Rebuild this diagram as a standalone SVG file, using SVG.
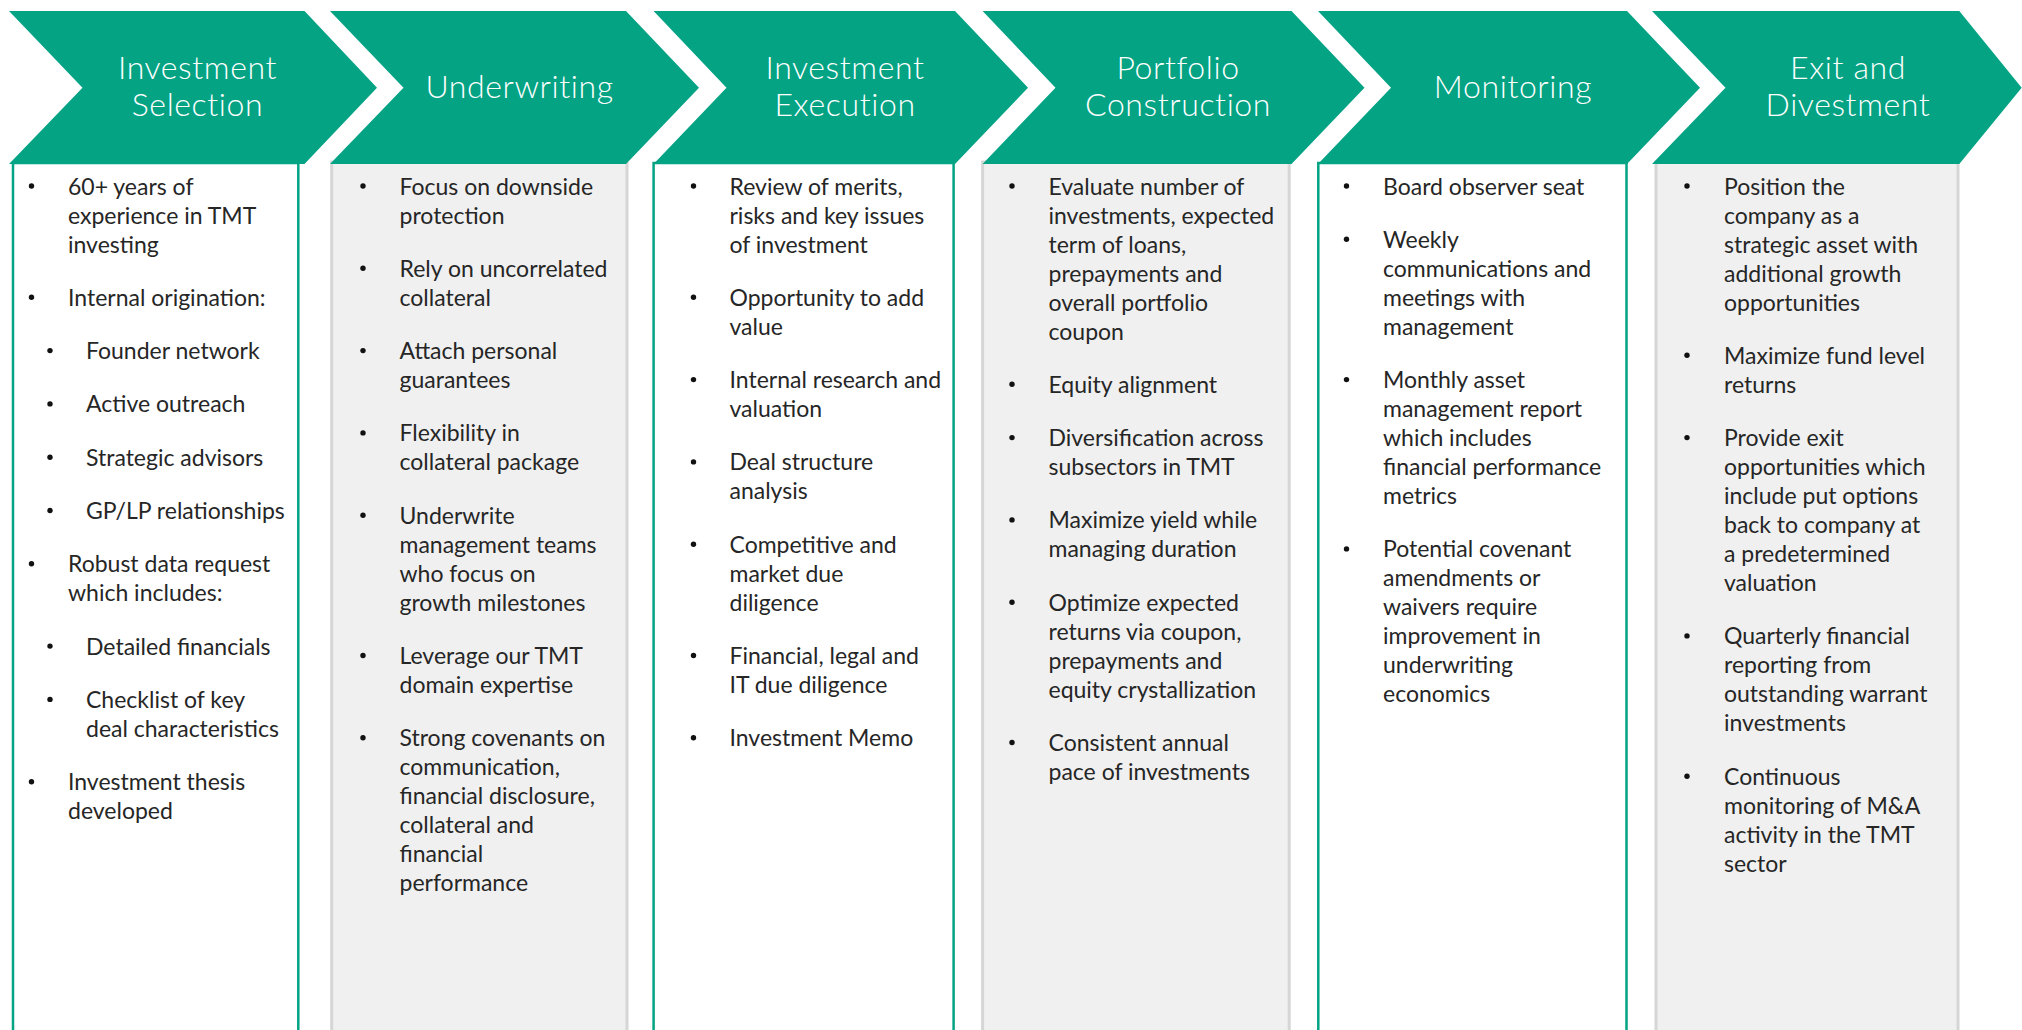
<svg xmlns="http://www.w3.org/2000/svg" width="2022" height="1030" viewBox="0 0 2022 1030">
  <style>
    .chev { fill: #03A384; }
    .box-w { fill: #FFFFFF; stroke: #03A384; stroke-width: 2.5; }
    .box-g { fill: #F0F0F0; stroke: #D6D6D6; stroke-width: 3; }
    .title { font-family: Lato, "Open Sans", sans-serif; font-weight: 300; font-size: 32px; letter-spacing: 0.6px; fill: #FFFFFF; text-anchor: middle; }
    .item { font-family: Lato, "Open Sans", sans-serif; font-weight: 400; font-size: 23px; fill: #262626; }
    .dot { fill: #111111; }
  </style>
  <rect width="2022" height="1030" fill="#FFFFFF"/>

  <!-- Column 1 -->
  <g id="investment-selection">
    <rect class="box-w" x="13" y="163" width="285.3" height="880"/>
    <polygon class="chev" points="9,11 304.5,11 377,87.7 304.5,164 9,164 82.5,87.7"/>
    <text class="title"><tspan x="197.5" y="79">Investment</tspan><tspan x="197.5" y="115.7">Selection</tspan></text>
    <g class="dot">
      <circle cx="31.5" cy="186" r="2.7"/>
      <circle cx="31.5" cy="297.3" r="2.7"/>
      <circle cx="50" cy="350.6" r="2.7"/>
      <circle cx="50" cy="403.9" r="2.7"/>
      <circle cx="50" cy="457.2" r="2.7"/>
      <circle cx="50" cy="510.5" r="2.7"/>
      <circle cx="31.5" cy="563.8" r="2.7"/>
      <circle cx="50" cy="646.1" r="2.7"/>
      <circle cx="50" cy="699.4" r="2.7"/>
      <circle cx="31.5" cy="781.7" r="2.7"/>
    </g>
    <text class="item"><tspan x="68" y="194.5">60+ years of</tspan><tspan x="68" dy="29">experience in TMT</tspan><tspan x="68" dy="29">investing</tspan></text>
    <text class="item" x="68" y="305.8">Internal origination:</text>
    <text class="item" x="86" y="359.1">Founder network</text>
    <text class="item" x="86" y="412.4">Active outreach</text>
    <text class="item" x="86" y="465.7">Strategic advisors</text>
    <text class="item" x="86" y="519">GP/LP relationships</text>
    <text class="item"><tspan x="68" y="572.3">Robust data request</tspan><tspan x="68" dy="29">which includes:</tspan></text>
    <text class="item" x="86" y="654.6">Detailed financials</text>
    <text class="item"><tspan x="86" y="707.9">Checklist of key</tspan><tspan x="86" dy="29">deal characteristics</tspan></text>
    <text class="item"><tspan x="68" y="790.2">Investment thesis</tspan><tspan x="68" dy="29">developed</tspan></text>
  </g>

  <!-- Column 2 -->
  <g id="underwriting">
    <rect class="box-g" x="331.7" y="162" width="295.3" height="880"/>
    <polygon class="chev" points="330,11 626,11 699,87.7 626,164 330,164 403.5,87.7"/>
    <text class="title" x="519.5" y="97.7">Underwriting</text>
    <g class="dot">
      <circle cx="363" cy="186" r="2.7"/>
      <circle cx="363" cy="268.3" r="2.7"/>
      <circle cx="363" cy="350.6" r="2.7"/>
      <circle cx="363" cy="432.9" r="2.7"/>
      <circle cx="363" cy="515.2" r="2.7"/>
      <circle cx="363" cy="655.5" r="2.7"/>
      <circle cx="363" cy="737.8" r="2.7"/>
    </g>
    <text class="item"><tspan x="399.5" y="194.5">Focus on downside</tspan><tspan x="399.5" dy="29">protection</tspan></text>
    <text class="item"><tspan x="399.5" y="276.8">Rely on uncorrelated</tspan><tspan x="399.5" dy="29">collateral</tspan></text>
    <text class="item"><tspan x="399.5" y="359.1">Attach personal</tspan><tspan x="399.5" dy="29">guarantees</tspan></text>
    <text class="item"><tspan x="399.5" y="441.4">Flexibility in</tspan><tspan x="399.5" dy="29">collateral package</tspan></text>
    <text class="item"><tspan x="399.5" y="523.7">Underwrite</tspan><tspan x="399.5" dy="29">management teams</tspan><tspan x="399.5" dy="29">who focus on</tspan><tspan x="399.5" dy="29">growth milestones</tspan></text>
    <text class="item"><tspan x="399.5" y="664">Leverage our TMT</tspan><tspan x="399.5" dy="29">domain expertise</tspan></text>
    <text class="item"><tspan x="399.5" y="746.3">Strong covenants on</tspan><tspan x="399.5" dy="29">communication,</tspan><tspan x="399.5" dy="29">financial disclosure,</tspan><tspan x="399.5" dy="29">collateral and</tspan><tspan x="399.5" dy="29">financial</tspan><tspan x="399.5" dy="29">performance</tspan></text>
  </g>

  <!-- Column 3 -->
  <g id="investment-execution">
    <rect class="box-w" x="653.6" y="163" width="300" height="880"/>
    <polygon class="chev" points="653.6,11 955,11 1028,87.7 955,164 653.6,164 726.5,87.7"/>
    <text class="title"><tspan x="845" y="79">Investment</tspan><tspan x="845" y="115.7">Execution</tspan></text>
    <g class="dot">
      <circle cx="693.5" cy="186" r="2.7"/>
      <circle cx="693.5" cy="297.3" r="2.7"/>
      <circle cx="693.5" cy="379.6" r="2.7"/>
      <circle cx="693.5" cy="461.9" r="2.7"/>
      <circle cx="693.5" cy="544.2" r="2.7"/>
      <circle cx="693.5" cy="655.5" r="2.7"/>
      <circle cx="693.5" cy="737.8" r="2.7"/>
    </g>
    <text class="item"><tspan x="729.5" y="194.5">Review of merits,</tspan><tspan x="729.5" dy="29">risks and key issues</tspan><tspan x="729.5" dy="29">of investment</tspan></text>
    <text class="item"><tspan x="729.5" y="305.8">Opportunity to add</tspan><tspan x="729.5" dy="29">value</tspan></text>
    <text class="item"><tspan x="729.5" y="388.1">Internal research and</tspan><tspan x="729.5" dy="29">valuation</tspan></text>
    <text class="item"><tspan x="729.5" y="470.4">Deal structure</tspan><tspan x="729.5" dy="29">analysis</tspan></text>
    <text class="item"><tspan x="729.5" y="552.7">Competitive and</tspan><tspan x="729.5" dy="29">market due</tspan><tspan x="729.5" dy="29">diligence</tspan></text>
    <text class="item"><tspan x="729.5" y="664">Financial, legal and</tspan><tspan x="729.5" dy="29">IT due diligence</tspan></text>
    <text class="item" x="729.5" y="746.3">Investment Memo</text>
  </g>

  <!-- Column 4 -->
  <g id="portfolio-construction">
    <rect class="box-g" x="982.6" y="162" width="306.6" height="880"/>
    <polygon class="chev" points="982.6,11 1291.5,11 1364.5,87.7 1291.5,164 982.6,164 1055.5,87.7"/>
    <text class="title"><tspan x="1178" y="79">Portfolio</tspan><tspan x="1178" y="115.7">Construction</tspan></text>
    <g class="dot">
      <circle cx="1012" cy="186" r="2.7"/>
      <circle cx="1012" cy="384.3" r="2.7"/>
      <circle cx="1012" cy="437.6" r="2.7"/>
      <circle cx="1012" cy="519.9" r="2.7"/>
      <circle cx="1012" cy="602.2" r="2.7"/>
      <circle cx="1012" cy="742.5" r="2.7"/>
    </g>
    <text class="item"><tspan x="1048.5" y="194.5">Evaluate number of</tspan><tspan x="1048.5" dy="29">investments, expected</tspan><tspan x="1048.5" dy="29">term of loans,</tspan><tspan x="1048.5" dy="29">prepayments and</tspan><tspan x="1048.5" dy="29">overall portfolio</tspan><tspan x="1048.5" dy="29">coupon</tspan></text>
    <text class="item" x="1048.5" y="392.8">Equity alignment</text>
    <text class="item"><tspan x="1048.5" y="446.1">Diversification across</tspan><tspan x="1048.5" dy="29">subsectors in TMT</tspan></text>
    <text class="item"><tspan x="1048.5" y="528.4">Maximize yield while</tspan><tspan x="1048.5" dy="29">managing duration</tspan></text>
    <text class="item"><tspan x="1048.5" y="610.7">Optimize expected</tspan><tspan x="1048.5" dy="29">returns via coupon,</tspan><tspan x="1048.5" dy="29">prepayments and</tspan><tspan x="1048.5" dy="29">equity crystallization</tspan></text>
    <text class="item"><tspan x="1048.5" y="751">Consistent annual</tspan><tspan x="1048.5" dy="29">pace of investments</tspan></text>
  </g>

  <!-- Column 5 -->
  <g id="monitoring">
    <rect class="box-w" x="1318.3" y="163" width="308.2" height="880"/>
    <polygon class="chev" points="1318,11 1627,11 1700,87.7 1627,164 1318,164 1391,87.7"/>
    <text class="title" x="1513" y="97.7">Monitoring</text>
    <g class="dot">
      <circle cx="1346.5" cy="186" r="2.7"/>
      <circle cx="1346.5" cy="239.3" r="2.7"/>
      <circle cx="1346.5" cy="379.6" r="2.7"/>
      <circle cx="1346.5" cy="548.9" r="2.7"/>
    </g>
    <text class="item" x="1383" y="194.5">Board observer seat</text>
    <text class="item"><tspan x="1383" y="247.8">Weekly</tspan><tspan x="1383" dy="29">communications and</tspan><tspan x="1383" dy="29">meetings with</tspan><tspan x="1383" dy="29">management</tspan></text>
    <text class="item"><tspan x="1383" y="388.1">Monthly asset</tspan><tspan x="1383" dy="29">management report</tspan><tspan x="1383" dy="29">which includes</tspan><tspan x="1383" dy="29">financial performance</tspan><tspan x="1383" dy="29">metrics</tspan></text>
    <text class="item"><tspan x="1383" y="557.4">Potential covenant</tspan><tspan x="1383" dy="29">amendments or</tspan><tspan x="1383" dy="29">waivers require</tspan><tspan x="1383" dy="29">improvement in</tspan><tspan x="1383" dy="29">underwriting</tspan><tspan x="1383" dy="29">economics</tspan></text>
  </g>

  <!-- Column 6 -->
  <g id="exit-and-divestment">
    <rect class="box-g" x="1656" y="162" width="302" height="880"/>
    <polygon class="chev" points="1652,11 1959.3,11 2021.7,87.7 1959.3,164 1652,164 1725.5,87.7"/>
    <text class="title"><tspan x="1848" y="79">Exit and</tspan><tspan x="1848" y="115.7">Divestment</tspan></text>
    <g class="dot">
      <circle cx="1687" cy="186" r="2.7"/>
      <circle cx="1687" cy="355.3" r="2.7"/>
      <circle cx="1687" cy="437.6" r="2.7"/>
      <circle cx="1687" cy="635.9" r="2.7"/>
      <circle cx="1687" cy="776.2" r="2.7"/>
    </g>
    <text class="item"><tspan x="1724" y="194.5">Position the</tspan><tspan x="1724" dy="29">company as a</tspan><tspan x="1724" dy="29">strategic asset with</tspan><tspan x="1724" dy="29">additional growth</tspan><tspan x="1724" dy="29">opportunities</tspan></text>
    <text class="item"><tspan x="1724" y="363.8">Maximize fund level</tspan><tspan x="1724" dy="29">returns</tspan></text>
    <text class="item"><tspan x="1724" y="446.1">Provide exit</tspan><tspan x="1724" dy="29">opportunities which</tspan><tspan x="1724" dy="29">include put options</tspan><tspan x="1724" dy="29">back to company at</tspan><tspan x="1724" dy="29">a predetermined</tspan><tspan x="1724" dy="29">valuation</tspan></text>
    <text class="item"><tspan x="1724" y="644.4">Quarterly financial</tspan><tspan x="1724" dy="29">reporting from</tspan><tspan x="1724" dy="29">outstanding warrant</tspan><tspan x="1724" dy="29">investments</tspan></text>
    <text class="item"><tspan x="1724" y="784.7">Continuous</tspan><tspan x="1724" dy="29">monitoring of M&amp;A</tspan><tspan x="1724" dy="29">activity in the TMT</tspan><tspan x="1724" dy="29">sector</tspan></text>
  </g>
</svg>
